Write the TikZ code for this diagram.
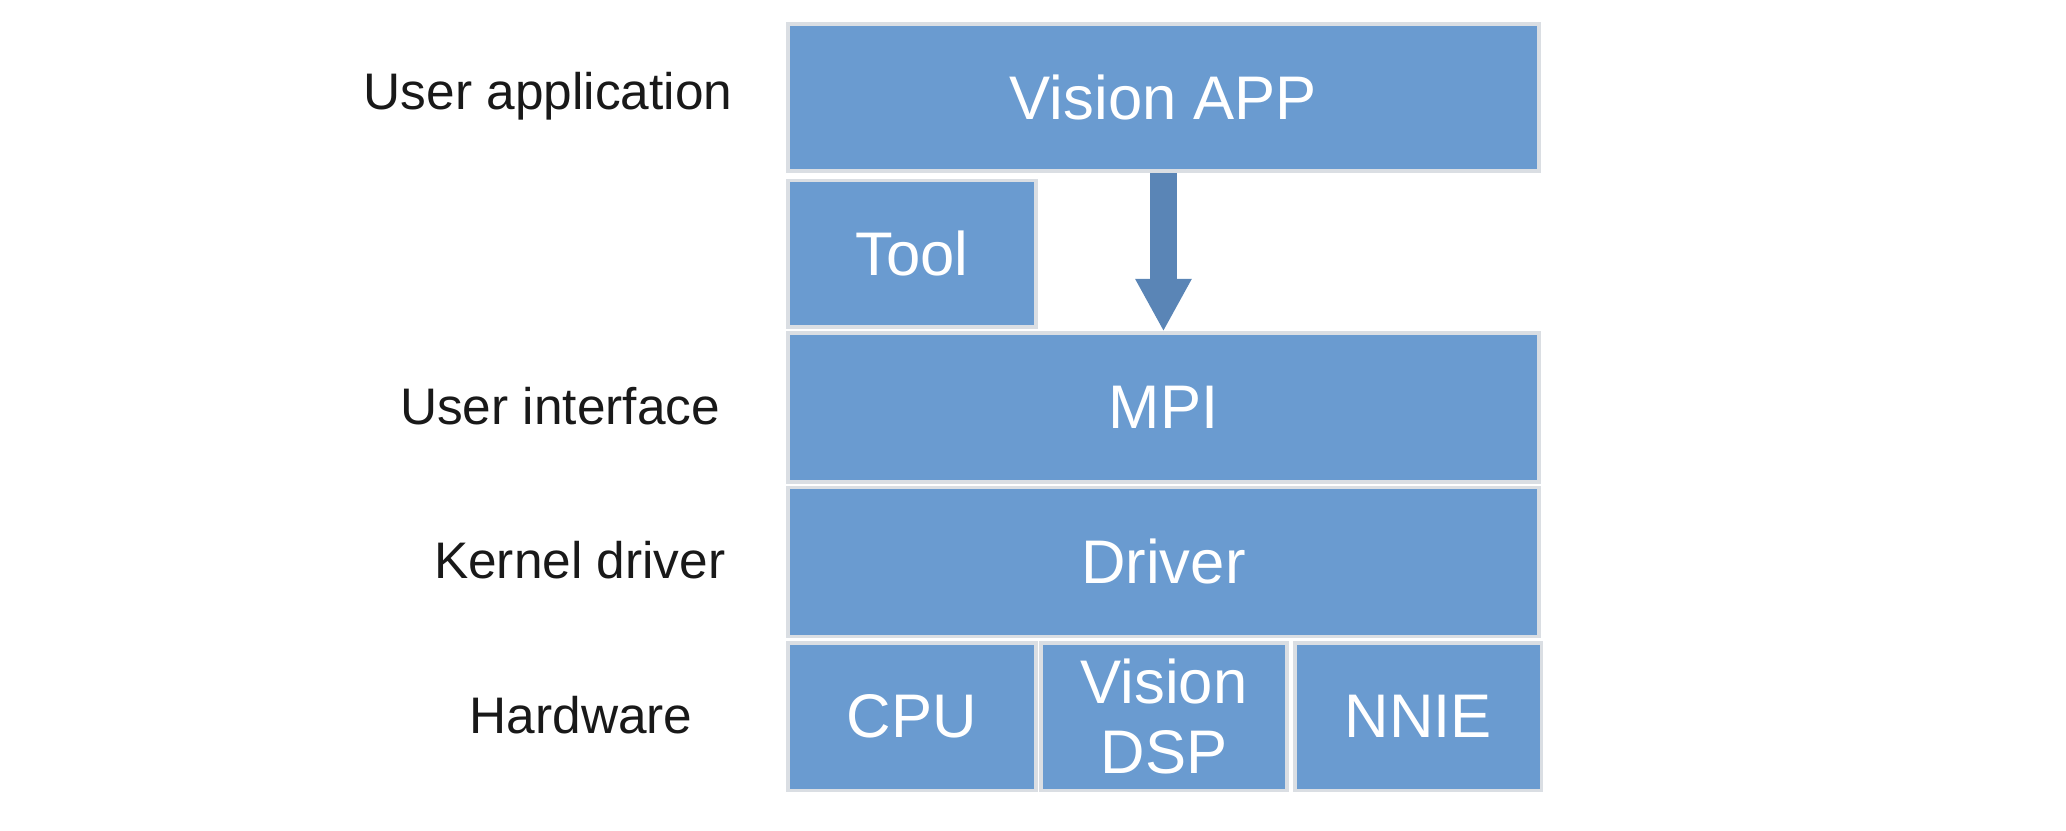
\documentclass[tikz,border=0pt]{standalone}
\usepackage{fontspec}
\setmainfont{Liberation Sans}
\usetikzlibrary{arrows.meta}
\definecolor{boxblue}{RGB}{106,155,208}
\definecolor{arrblue}{RGB}{90,133,182}
\definecolor{edgegray}{RGB}{218,222,227}
\tikzset{%
    layer/.style={inner sep=0pt,rectangle,fill=boxblue,draw=edgegray,line width=0.8pt,text=white,font=\fontsize{13.3}{14.5}\selectfont,align=center},
    lvl/.style={inner sep=0pt,text=black!90,font=\fontsize{11.1}{13}\selectfont}
}
\begin{document}
\begin{tikzpicture}
        \useasboundingbox (0,0) rectangle (15.68,-6.30);
        \node[layer,minimum width=5.70cm,minimum height=1.12cm] (app) at (8.83,-0.74){Vision APP};
        \node[layer,minimum width=1.88cm,minimum height=1.11cm] (tool) at (6.92,-1.925){Tool};
        \node[layer,minimum width=5.70cm,minimum height=1.13cm] (mpi) at (8.83,-3.095){MPI};
        \node[layer,minimum width=5.70cm,minimum height=1.13cm] (drv) at (8.83,-4.265){Driver};
        \node[layer,minimum width=1.88cm,minimum height=1.12cm] (cpu) at (6.92,-5.44){CPU};
        \node[layer,minimum width=1.87cm,minimum height=1.12cm] (dsp) at (8.835,-5.44){Vision\\[0.02cm]DSP};
        \node[layer,minimum width=1.87cm,minimum height=1.12cm] (nnie) at (10.765,-5.44){NNIE};
        \node[lvl] (lapp) at (4.16,-0.73){User application};
        \node[lvl] (lmpi) at (4.25,-3.08){User interface};
        \node[lvl] (ldrv) at (4.40,-4.25){Kernel driver};
        \node[lvl] (lhw) at (4.41,-5.43){Hardware};
        \draw[arrblue,line width=0.205cm,-{Triangle[width=0.40cm,length=0.40cm]}]
            (app.south) -- (mpi.north);
    \end{tikzpicture}
\end{document}
